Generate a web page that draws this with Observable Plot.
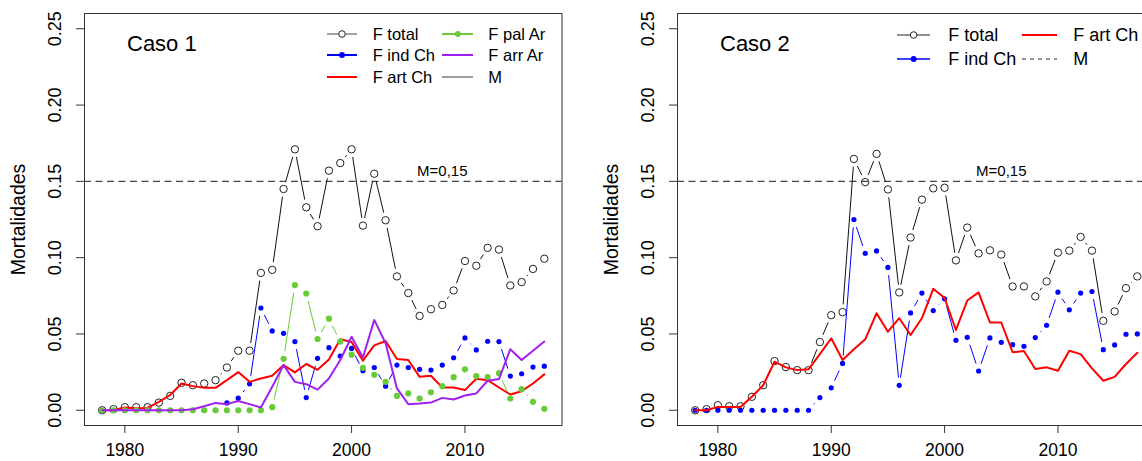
<!DOCTYPE html>
<html><head><meta charset="utf-8">
<script src="https://cdn.jsdelivr.net/npm/d3@7"></script>
<script src="https://cdn.jsdelivr.net/npm/@observablehq/plot@0.6"></script>
<style>
html,body{margin:0;padding:0;background:#fff;width:1142px;height:461px;overflow:hidden}
#wrap{position:relative;width:1142px;height:461px;overflow:hidden;font-family:"Liberation Sans",Arial,Helvetica,sans-serif;color:#000}
.panel{position:absolute;top:0}
.lt{position:absolute;line-height:1;white-space:nowrap;transform:translateY(-50%)}
</style></head>
<body><div id="wrap"></div>
<script>
// ---------- data ----------
const years = [1978,1979,1980,1981,1982,1983,1984,1985,1986,1987,1988,1989,1990,1991,1992,1993,1994,1995,1996,1997,1998,1999,2000,2001,2002,2003,2004,2005,2006,2007,2008,2009,2010,2011,2012,2013,2014,2015,2016,2017];
const yTicks = [0, 0.05, 0.10, 0.15, 0.20, 0.25];
const xTicks = [1980, 1990, 2000, 2010];
const mValue = 0.15;
const mLabel = "M=0,15";

// Caso 1
const c1Total = [0,0.0007,0.002,0.002,0.002,0.005,0.0094,0.018,0.0164,0.0175,0.0197,0.028,0.039,0.039,0.090,0.092,0.145,0.171,0.133,0.1206,0.157,0.162,0.171,0.121,0.155,0.1245,0.0877,0.0768,0.0618,0.0662,0.069,0.0785,0.0978,0.0947,0.1064,0.1053,0.0818,0.084,0.0926,0.0993];
const c1IndCh = [0,0,0,0,0,0,0,0,0,0,0,0.0048,0.0079,0.0173,0.067,0.052,0.0504,0.045,0.0083,0.034,0.041,0.0355,0.0405,0.0259,0.028,0.0158,0.0296,0.028,0.0268,0.0263,0.0296,0.0344,0.0474,0.0395,0.0452,0.045,0.0224,0.0239,0.0283,0.0289];
const c1ArtCh = [0,0,0.0018,0.0013,0.0015,0.0055,0.010,0.0175,0.0158,0.0147,0.0147,0.0197,0.025,0.0186,0.0208,0.0226,0.0296,0.0248,0.0303,0.0265,0.0333,0.0465,0.0447,0.0325,0.0425,0.0454,0.0336,0.0329,0.0219,0.0226,0.0149,0.0149,0.0132,0.0206,0.0197,0.0149,0.0103,0.0125,0.0175,0.0235];
const c1PalAr = [0,0,0,0,0,0,0,0,0,0,0,0,0,0,0,0.002,0.0337,0.082,0.0765,0.0467,0.060,0.045,0.0364,0.0278,0.0232,0.0186,0.0094,0.011,0.0077,0.0118,0.0158,0.0217,0.0268,0.0224,0.0217,0.0243,0.0077,0.0138,0.0055,0.0009];
const c1ArrAr = [0,0,0,0,0,0,0,0,0.0007,0.0026,0.0048,0.004,0.006,0.004,0.0018,0.0154,0.0296,0.0186,0.0171,0.0135,0.0208,0.0329,0.0482,0.0346,0.0592,0.0439,0.0143,0.004,0.0044,0.005,0.0081,0.007,0.0097,0.011,0.0193,0.0204,0.040,0.0329,0.039,0.045];

// Caso 2
const c2Total = [0,0.0007,0.0033,0.0026,0.0026,0.0088,0.0164,0.0322,0.0283,0.0263,0.0263,0.0447,0.0623,0.0643,0.1647,0.1495,0.168,0.1447,0.0772,0.1132,0.138,0.1454,0.1458,0.0982,0.1197,0.1028,0.1048,0.102,0.0811,0.0811,0.0746,0.0844,0.1033,0.1046,0.1136,0.1046,0.0586,0.0647,0.080,0.0877];
const c2IndCh = [0,0,0,0,0,0,0,0,0,0,0,0.0083,0.0147,0.0307,0.125,0.1028,0.1044,0.0936,0.0163,0.0638,0.0768,0.0653,0.073,0.0458,0.0478,0.0257,0.0474,0.0445,0.043,0.0419,0.0476,0.0557,0.0774,0.0658,0.0768,0.0778,0.0397,0.0428,0.0498,0.050];
const c2ArtCh = [0,0,0.0022,0.0022,0.0022,0.0088,0.0164,0.0318,0.0281,0.0263,0.0268,0.0368,0.0472,0.0329,0.040,0.0465,0.0636,0.0515,0.0603,0.0493,0.0603,0.0796,0.0735,0.0526,0.0719,0.0772,0.0575,0.0575,0.038,0.0388,0.027,0.0281,0.0259,0.039,0.0368,0.0274,0.0193,0.0219,0.0303,0.0377];

// ---------- styling ----------
const W = 580, H = 461, ML = 84, MR = 18.5, MT = 13, MB = 36;
const xDomain = [1976.44, 2018.56], yDomain = [-0.01, 0.26];
const GAP = 7.8;
const FONT = "'Liberation Sans', Arial, Helvetica, sans-serif";
const BLUE = "#0000FF", RED = "#FF0000", GREEN = "#6ACB38", PURPLE = "#A020F0";

const xs = Plot.scale({x: {domain: xDomain, range: [ML, W - MR]}});
const ys = Plot.scale({y: {domain: yDomain, range: [H - MB, MT]}});

function rows(vals) { return years.map((yr, i) => ({year: yr, v: vals[i]})); }

// R type="b": segments shortened near each point
function gapLinks(vals) {
  const out = [];
  for (let i = 0; i < years.length - 1; i++) {
    const px1 = xs.apply(years[i]), py1 = ys.apply(vals[i]);
    const px2 = xs.apply(years[i + 1]), py2 = ys.apply(vals[i + 1]);
    const dx = px2 - px1, dy = py2 - py1, L = Math.hypot(dx, dy);
    if (L <= 2 * GAP) continue;
    const ux = dx / L, uy = dy / L;
    out.push({x1: xs.invert(px1 + ux * GAP), y1: ys.invert(py1 + uy * GAP),
              x2: xs.invert(px2 - ux * GAP), y2: ys.invert(py2 - uy * GAP)});
  }
  return out;
}
function typeB(vals, color, dotOpts) {
  return [
    Plot.link(gapLinks(vals), {x1: "x1", y1: "y1", x2: "x2", y2: "y2", stroke: color, strokeWidth: 1}),
    Plot.dot(rows(vals), {x: "year", y: "v", ...dotOpts})
  ];
}
function lineL(vals, color) {
  return Plot.line(rows(vals), {x: "year", y: "v", stroke: color, strokeWidth: 2});
}

function panel(left, title, mYear, seriesMarks) {
  const chart = Plot.plot({
    width: W, height: H,
    marginLeft: ML, marginRight: MR, marginTop: MT, marginBottom: MB,
    x: {domain: xDomain, label: null},
    y: {domain: yDomain, label: null},
    style: {fontFamily: FONT, fontSize: "17.5px", color: "#000", background: "transparent"},
    marks: [
      Plot.ruleY([mValue], {stroke: "#444", strokeWidth: 1.4, strokeDasharray: "7,4.5"}),
      ...seriesMarks,
      Plot.text([mLabel], {x: mYear, y: mValue, dy: -10, fontSize: 15, textAnchor: "middle", lineAnchor: "middle"}),
      Plot.text([title], {frameAnchor: "top-left", dx: 42.5, dy: 30, textAnchor: "start", lineAnchor: "middle", fontSize: 22}),
      Plot.axisX({ticks: xTicks, tickSize: 8, tickPadding: 10, tickFormat: d => String(d), fontSize: 17.5, label: null, stroke: "#333"}),
      Plot.axisY({ticks: yTicks, tickSize: 8, tickFormat: () => "", label: null, stroke: "#333"}),
      Plot.text(yTicks, {y: d => d, frameAnchor: "left", dx: -29.5, rotate: -90, text: d => d.toFixed(2), fontSize: 18, textAnchor: "middle", lineAnchor: "middle"}),
      Plot.text(["Mortalidades"], {frameAnchor: "left", dx: -66, rotate: -90, fontSize: 19.5, textAnchor: "middle", lineAnchor: "middle"}),
      Plot.frame({stroke: "#333"})
    ]
  });
  chart.classList.add("panel");
  chart.style.left = left + "px";
  return chart;
}

const wrap = document.getElementById("wrap");

const dotTotal = {r: 3.7, fill: "none", stroke: "#222", strokeWidth: 1};
const dotBlue = {r: 2.6, fill: BLUE};
const dotGreen = {r: 3.1, fill: GREEN};

wrap.appendChild(panel(0, "Caso 1", 2008, [
  ...typeB(c1Total, "#111", dotTotal),
  ...typeB(c1IndCh, BLUE, dotBlue),
  lineL(c1ArtCh, RED),
  ...typeB(c1PalAr, GREEN, dotGreen),
  lineL(c1ArrAr, PURPLE)
]));

wrap.appendChild(panel(592.5, "Caso 2", 2005, [
  ...typeB(c2Total, "#111", dotTotal),
  ...typeB(c2IndCh, BLUE, dotBlue),
  lineL(c2ArtCh, RED)
]));

// ---------- legends ----------
function legend(items, fs) {
  for (const it of items) {
    const w = it.x2 - it.x1;
    const svg = d3.create("svg").attr("width", w).attr("height", 14)
      .style("position", "absolute").style("left", it.x1 + "px").style("top", (it.cy - 7) + "px");
    svg.append("line").attr("x1", 0).attr("x2", w).attr("y1", 7).attr("y2", 7)
      .attr("stroke", it.color).attr("stroke-width", it.sw).attr("stroke-dasharray", it.dash || null);
    if (it.marker === "open") svg.append("circle").attr("cx", w / 2).attr("cy", 7).attr("r", 3.3)
      .attr("fill", "#fff").attr("stroke", "#222").attr("stroke-width", 1);
    if (it.marker === "dot") svg.append("circle").attr("cx", w / 2).attr("cy", 7).attr("r", 3)
      .attr("fill", it.color);
    wrap.appendChild(svg.node());
    const t = document.createElement("div");
    t.className = "lt";
    t.textContent = it.text;
    t.style.left = it.tx + "px";
    t.style.top = it.cy + "px";
    t.style.fontSize = fs + "px";
    wrap.appendChild(t);
  }
}
legend([
  {text: "F total", x1: 326.7, x2: 356.7, tx: 372.7, cy: 33.5, color: "#444", sw: 1, marker: "open"},
  {text: "F ind Ch", x1: 326.7, x2: 356.7, tx: 372.7, cy: 55, color: BLUE, sw: 2, marker: "dot"},
  {text: "F art Ch", x1: 326.7, x2: 356.7, tx: 372.7, cy: 76.5, color: RED, sw: 2},
  {text: "F pal Ar", x1: 441.7, x2: 473.3, tx: 488.3, cy: 33.5, color: GREEN, sw: 2, marker: "dot"},
  {text: "F arr Ar", x1: 441.7, x2: 473.3, tx: 488.3, cy: 55, color: PURPLE, sw: 2},
  {text: "M", x1: 441.7, x2: 473.3, tx: 488.3, cy: 76.5, color: "#666", sw: 1.3}
], 16.5);
legend([
  {text: "F total", x1: 896.7, x2: 930, tx: 948.3, cy: 35, color: "#222", sw: 1, marker: "open"},
  {text: "F ind Ch", x1: 896.7, x2: 930, tx: 948.3, cy: 59.3, color: BLUE, sw: 1.3, marker: "dot"},
  {text: "F art Ch", x1: 1021.7, x2: 1056.7, tx: 1073.3, cy: 35, color: RED, sw: 2},
  {text: "M", x1: 1021.7, x2: 1056.7, tx: 1073.3, cy: 59.3, color: "#222", sw: 1, dash: "4,4"}
], 18);
</script></body></html>
